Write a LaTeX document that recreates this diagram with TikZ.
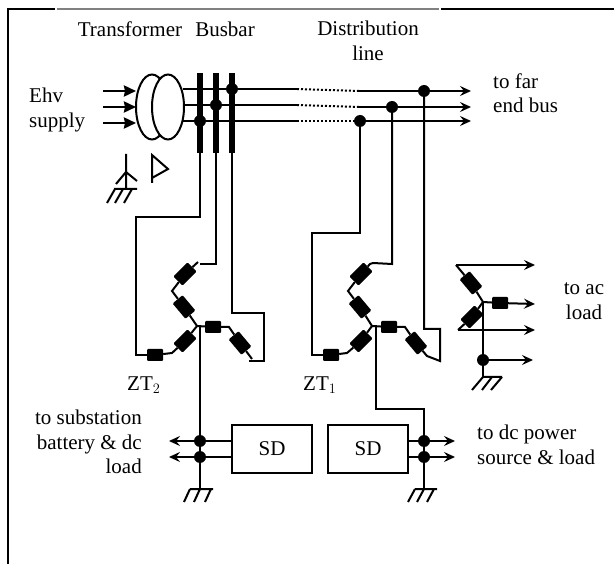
\documentclass[tikz,border=0pt]{standalone}
\usepackage{fontspec}
\setmainfont{Liberation Serif}
\usetikzlibrary{arrows.meta}
\tikzset{
	wire/.style={line width=2pt},
	thick wire/.style={line width=2.6pt},
	feed/.style={line width=2pt, -{Stealth[length=11pt,width=10pt,inset=4pt]}},
	heavy feed/.style={line width=2.6pt, -{Stealth[length=12pt,width=11pt,inset=1pt]}},
	bar/.style={line width=6pt},
	dot/.style={circle, fill=black, minimum size=12pt, inner sep=0pt},
	coil/.style={rectangle, fill=black, rounded corners=1pt, minimum width=16pt, minimum height=12pt, inner sep=0pt},
	slant coil/.style={coil, minimum width=20pt, minimum height=13pt},
	sdbox/.style={draw, line width=2pt, minimum width=80pt, minimum height=48pt, inner sep=0pt},
	label/.style={font=\fontsize{21}{24.5}\selectfont, align=center, inner sep=0pt},
}
\begin{document}
\begin{tikzpicture}[x=1pt, y=-1pt]
	\useasboundingbox (0,0) rectangle (614,564);
	%frame
	\draw[line width=2pt] (8,564) -- (8,9) -- (55,9);
	\draw[line width=2pt, black!50] (57,9) -- (439,9);
	\draw[line width=2pt] (441,9) -- (614,9);
	%labels
	\node[label] (transformer) at (130,29) {Transformer};
	\node[label] (busbar) at (225,29) {Busbar};
	\node[label] (distline) at (368,41) {Distribution\\line};
	\node[label, align=left, anchor=west] (ehv) at (29,110) {Ehv\\supply};
	\node[label, align=left, anchor=west] (farbus) at (493,93) {to far\\end bus};
	\node[label] (acload) at (584,301) {to ac\\load};
	\node[label, anchor=west] (zttwo) at (127,385) {ZT$_2$};
	\node[label, anchor=west] (ztone) at (303,385) {ZT$_1$};
	\node[label, align=right, anchor=east] (subload) at (142,442) {to substation\\battery \& dc\\load};
	\node[label, align=left, anchor=west] (dcload) at (477,445) {to dc power\\source \& load};
	%transformer
	\coordinate (inA) at (103,91);
	\coordinate (inB) at (103,107);
	\coordinate (inC) at (103,123);
	\coordinate (hvA) at (136,91);
	\coordinate (hvB) at (136,107);
	\coordinate (hvC) at (136,123);
	\draw[heavy feed] (inA) -- (hvA);
	\draw[heavy feed] (inB) -- (hvB);
	\draw[heavy feed] (inC) -- (hvC);
	\draw[wire] (152,107) ellipse (16 and 32.5);
	\draw[wire, fill=white] (168,107) ellipse (16 and 32.5);
	\draw[wire] (126,154) -- (126,189) (116,184) -- (126,172) -- (137,181);
	\draw[wire] (114,189) -- (137,189) (115,189) -- ++(-8,14) (123,189) -- ++(-8,14) (132,189) -- ++(-8,14);
	\draw[wire] (152,183) -- (152,155) -- (168,169) -- (152,178);
	%busbars
	\coordinate (barAtop) at (200,73);
	\coordinate (barAend) at (200,153);
	\coordinate (barBtop) at (216,73);
	\coordinate (barBend) at (216,153);
	\coordinate (barCtop) at (232,73);
	\coordinate (barCend) at (232,153);
	\draw[bar] (barAtop) -- (barAend);
	\draw[bar] (barBtop) -- (barBend);
	\draw[bar] (barCtop) -- (barCend);
	%lines
	\node[dot] (busdotC) at (232,89) {};
	\node[dot] (busdotB) at (216,105) {};
	\node[dot] (busdotA) at (200,121) {};
	\node[dot] (linedotC) at (424,91) {};
	\node[dot] (linedotB) at (392,107) {};
	\node[dot] (linedotA) at (360,121) {};
	\coordinate (lvC) at (183,89);
	\coordinate (lvB) at (184,105);
	\coordinate (lvA) at (182,121);
	\coordinate (dotsC) at (297,89);
	\coordinate (dotsB) at (297,105);
	\coordinate (dotsA) at (297,121);
	\coordinate (lineC) at (359,91);
	\coordinate (lineB) at (359,107);
	\coordinate (farC) at (471,91);
	\coordinate (farB) at (471,107);
	\coordinate (farA) at (471,121);
	\draw[wire] (lvC) -- (dotsC);
	\draw[wire] (lvB) -- (dotsB);
	\draw[wire] (lvA) -- (dotsA);
	\draw[wire, dotted] (dotsC) -- (lineC);
	\draw[wire, dotted] (dotsB) -- (lineB);
	\draw[wire, dotted] (dotsA) -- (linedotA);
	\draw[wire] (lineC) -- (linedotC);
	\draw[wire] (lineB) -- (linedotB);
	\draw[feed] (linedotC) -- (farC);
	\draw[feed] (linedotB) -- (farB);
	\draw[feed] (linedotA) -- (farA);
	%ZT2
	\node[coil] (ztwoa) at (155,355) {};
	\node[slant coil, rotate=45] (ztwob) at (185,341) {};
	\node[slant coil, rotate=-50] (ztwoc) at (184,307) {};
	\node[slant coil, rotate=45] (ztwod) at (185,274) {};
	\node[coil] (ztwoe) at (213,327) {};
	\node[slant coil, rotate=-50] (ztwof) at (240,343) {};
	\coordinate (ztwostar) at (197,326);
	\draw[wire] (barAend) -- (200,217) -- (136,217) -- (136,355) -- (ztwoa);
	\draw[wire] (ztwoa) -- (172,353) -- (ztwob) -- (ztwostar) -- (ztwoc) -- (172,291) -- (ztwod) -- (198,262);
	\draw[wire] (200,264) -- (216,264) -- (barBend);
	\draw[wire] (ztwostar) -- (ztwoe) -- (229,327) -- (ztwof) -- (252,359);
	\draw[wire] (249,361) -- (264,361) -- (264,313) -- (232,313) -- (barCend);
	%ZT1
	\node[coil] (zonea) at (331,355) {};
	\node[slant coil, rotate=45] (zoneb) at (361,341) {};
	\node[slant coil, rotate=-50] (zonec) at (360,307) {};
	\node[slant coil, rotate=45] (zoned) at (361,274) {};
	\node[coil] (zonee) at (389,327) {};
	\node[slant coil, rotate=-50] (zonef) at (416,343) {};
	\coordinate (zonestar) at (372,326);
	\draw[wire] (linedotA) -- (360,233) -- (312,233) -- (312,355) -- (zonea);
	\draw[wire] (zonea) -- (347,353) -- (zoneb) -- (zonestar) -- (zonec) -- (348,291) -- (zoned) -- (370,264) -- (373,263) -- (392,264) -- (linedotB);
	\draw[wire] (zonestar) -- (zonee) -- (405,327) -- (zonef) -- (427,356) -- (440,361) -- (440,329) -- (424,329) -- (linedotC);
	%ac load
	\node[slant coil, rotate=-50] (acoila) at (471,283) {};
	\node[slant coil, rotate=45] (acoilb) at (472,317) {};
	\node[coil] (acoilc) at (500,303) {};
	\node[dot] (acdot) at (483,360) {};
	\coordinate (acstar) at (483,302);
	\coordinate (actop) at (456,265);
	\coordinate (aclow) at (458,330);
	\coordinate (acgnd) at (483,377);
	\draw[feed] (actop) -- (535,265);
	\draw[feed] (aclow) -- (535,330);
	\draw[feed] (acdot) -- (533,360);
	\draw[feed] (acstar) -- (acoilc) -- (535,304);
	\draw[wire] (actop) -- (acoila) -- (acstar) -- (acoilb) -- (aclow);
	\draw[wire] (acstar) -- (acdot) -- (acgnd);
	\draw[wire] (482,377) -- (502,377) (483,377) -- ++(-11,13) (492,377) -- ++(-10,13) (502,377) -- ++(-11,13);
	%sd boxes
	\node[sdbox, label] (sdleft) at (272,449) {SD};
	\node[sdbox, label] (sdright) at (368,449) {SD};
	\node[dot] (leftdotA) at (200,441) {};
	\node[dot] (leftdotB) at (200,457) {};
	\node[dot] (rightdotA) at (424,441) {};
	\node[dot] (rightdotB) at (424,457) {};
	\coordinate (leftgnd) at (200,489);
	\coordinate (rightgnd) at (424,489);
	\draw[thick wire] (ztwostar) -- (200,326) -- (leftdotA) -- (leftdotB) -- (leftgnd);
	\draw[thick wire] (zonestar) -- (376,326) -- (376,409) -- (424,409) -- (rightdotA) -- (rightdotB) -- (rightgnd);
	\draw[feed] (leftdotA) -- (169,441);
	\draw[feed] (leftdotB) -- (169,457);
	\draw[wire] (sdleft.west |- leftdotA) -- (leftdotA);
	\draw[wire] (sdleft.west |- leftdotB) -- (leftdotB);
	\draw[wire] (sdright.east |- rightdotA) -- (rightdotA);
	\draw[wire] (sdright.east |- rightdotB) -- (rightdotB);
	\draw[feed] (rightdotA) -- (455,441);
	\draw[feed] (rightdotB) -- (455,457);
	\draw[wire] (190,489) -- (213,489) (190,489) -- ++(-6,13) (200,489) -- ++(-6,13) (211,489) -- ++(-6,13);
	\draw[wire] (415,489) -- (437,489) (415,489) -- ++(-7,13) (424,489) -- ++(-7,13) (434,489) -- ++(-7,13);
\end{tikzpicture}
\end{document}
